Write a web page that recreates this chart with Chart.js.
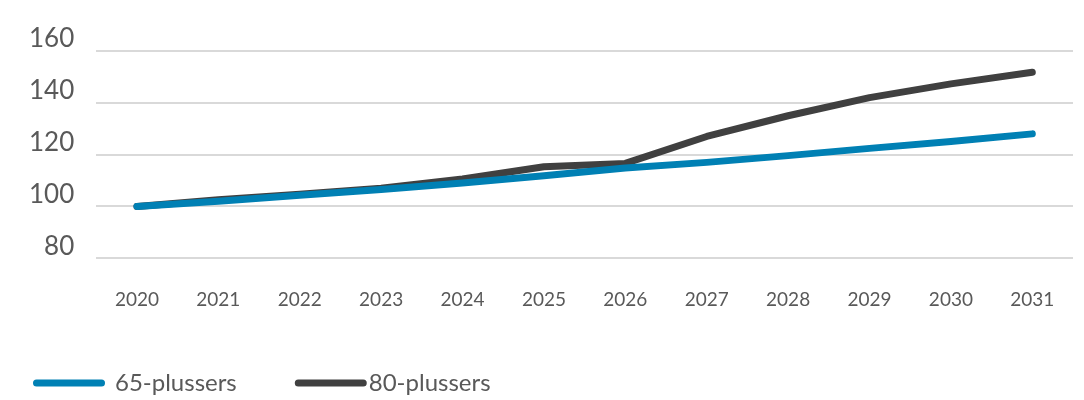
<!DOCTYPE html>
<html lang="nl">
<head>
  <meta charset="UTF-8" />
  <title>65-plussers en 80-plussers</title>
  <script src="https://cdn.jsdelivr.net/npm/chart.js"></script>
  <style>
    html, body { margin: 0; padding: 0; background: #fff; }
    #wrap { width: 1084px; height: 400px; }
  </style>
</head>
<body>
  <div id="wrap"><canvas id="chart" width="1084" height="400"></canvas></div>

  <script>
    const years = ["2020", "2021", "2022", "2023", "2024", "2025", "2026", "2027", "2028", "2029", "2030", "2031"];
    const plus65 = [100, 102, 104.3, 106.5, 109, 111.8, 114.8, 117, 119.6, 122.4, 125.1, 128];
    const plus80 = [100, 102.6, 104.7, 107, 110.6, 115.3, 116.6, 127, 135, 142, 147.3, 151.8];
    const yTicks = [80, 100, 120, 140, 160];

    const grey = "#595959";

    // legend drawn by hand: the built-in one can't do the uneven spacing of the original
    const bottomLegend = {
      id: "bottomLegend",
      afterDraw(chart) {
        const c = chart.ctx;
        const y = 383;
        let x = 33;
        c.save();
        c.font = "24px Lato";
        c.textBaseline = "middle";
        c.lineCap = "round";
        chart.data.datasets.forEach((ds, i) => {
          c.strokeStyle = ds.borderColor;
          c.lineWidth = 7;
          c.beginPath();
          c.moveTo(x + 3.5, y);
          c.lineTo(x + 72 - 3.5, y);
          c.stroke();
          const tx = x + 72 + (i === 0 ? 10 : 2);
          c.fillStyle = grey;
          c.fillText(ds.label, tx, y);
          x = tx + c.measureText(ds.label).width + 58;
        });
        c.restore();
      }
    };

    const ctx = document.getElementById("chart").getContext("2d");
    new Chart(ctx, {
      type: "line",
      data: {
        labels: years,
        datasets: [
          {
            label: "65-plussers",
            data: plus65,
            borderColor: "#0080b4",
            backgroundColor: "#0080b4",
            borderWidth: 7,
            pointRadius: 0,
            borderCapStyle: "round",
            borderJoinStyle: "round",
            tension: 0
          },
          {
            label: "80-plussers",
            data: plus80,
            borderColor: "#404040",
            backgroundColor: "#404040",
            borderWidth: 7,
            pointRadius: 0,
            borderCapStyle: "round",
            borderJoinStyle: "round",
            tension: 0
          }
        ]
      },
      options: {
        responsive: false,
        animation: false,
        layout: { padding: { left: 0, right: 11, top: 51, bottom: 67 } },
        plugins: {
          tooltip: { enabled: false },
          legend: { display: false }
        },
        scales: {
          x: {
            offset: true,
            grid: { display: false },
            border: { display: false },
            ticks: {
              color: grey,
              font: { family: "Lato", size: 19 },
              padding: 22,
              maxRotation: 0
            }
          },
          y: {
            min: 80,
            max: 160,
            afterBuildTicks: (scale) => { scale.ticks = yTicks.map(v => ({ value: v })); },
            grid: { color: "#d9d9d9", lineWidth: 2, drawTicks: false },
            border: { display: false },
            ticks: {
              color: grey,
              font: { family: "Lato", size: 26 },
              padding: 22,
              labelOffset: -12
            },
            afterFit: (scale) => { scale.width += 7; }
          }
        }
      },
      plugins: [bottomLegend]
    });
  </script>
</body>
</html>
